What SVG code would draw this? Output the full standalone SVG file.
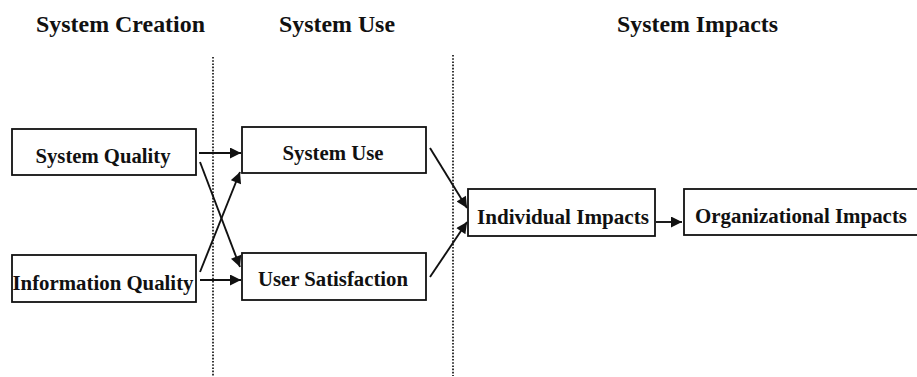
<svg xmlns="http://www.w3.org/2000/svg" width="917" height="377" viewBox="0 0 917 377">
<style>
.hdr{font-family:"Liberation Serif","Times New Roman",serif;font-weight:bold;font-size:23.5px;fill:#111}
.lbl{font-family:"Liberation Serif","Times New Roman",serif;font-weight:bold;font-size:20.5px;fill:#111;text-anchor:middle}
.box{fill:#fff;stroke:#111;stroke-width:1.8}
.div{stroke:#222;stroke-width:1.8;stroke-dasharray:1.6 1.6;fill:none}
.arr{stroke:#111;stroke-width:1.9;fill:none;marker-end:url(#ah)}
</style>
<defs>
<marker id="ah" viewBox="0 0 10 10" refX="10" refY="5" markerWidth="13" markerHeight="11" markerUnits="userSpaceOnUse" orient="auto">
<path d="M0,0 L10,5 L0,10 z" fill="#111"/>
</marker>
</defs>
<rect width="917" height="377" fill="#fff"/>
<g id="headers">
<text class="hdr" x="36" y="32" textLength="169" lengthAdjust="spacingAndGlyphs">System Creation</text>
<text class="hdr" x="279" y="32" textLength="116" lengthAdjust="spacingAndGlyphs">System Use</text>
<text class="hdr" x="617" y="32" textLength="161" lengthAdjust="spacingAndGlyphs">System Impacts</text>
</g>
<g id="dividers">
<line class="div" x1="213" y1="57" x2="213" y2="376"/>
<line class="div" x1="453" y1="55" x2="453" y2="376"/>
</g>
<g id="connectors">
<line class="arr" x1="199" y1="153" x2="241" y2="153"/>
<line class="arr" x1="200" y1="162" x2="240" y2="267"/>
<line class="arr" x1="200" y1="272" x2="240" y2="172"/>
<line class="arr" x1="200" y1="280" x2="241" y2="280"/>
<line class="arr" x1="430" y1="148" x2="467" y2="208"/>
<line class="arr" x1="430" y1="277" x2="467" y2="222"/>
<line class="arr" x1="656" y1="222" x2="682" y2="222"/>
</g>
<g id="system-quality">
<rect class="box" x="12" y="129" width="184" height="46"/>
<text class="lbl" x="103" y="163" textLength="135" lengthAdjust="spacingAndGlyphs">System Quality</text>
</g>
<g id="information-quality">
<rect class="box" x="12" y="255" width="184" height="47"/>
<text class="lbl" x="103" y="290" textLength="181" lengthAdjust="spacingAndGlyphs">Information Quality</text>
</g>
<g id="system-use">
<rect class="box" x="242" y="127" width="184" height="46"/>
<text class="lbl" x="333" y="160" textLength="101" lengthAdjust="spacingAndGlyphs">System Use</text>
</g>
<g id="user-satisfaction">
<rect class="box" x="242" y="253" width="184" height="47"/>
<text class="lbl" x="333" y="286" textLength="150" lengthAdjust="spacingAndGlyphs">User Satisfaction</text>
</g>
<g id="individual-impacts">
<rect class="box" x="468" y="189" width="187" height="47"/>
<text class="lbl" x="563" y="224" textLength="172" lengthAdjust="spacingAndGlyphs">Individual Impacts</text>
</g>
<g id="organizational-impacts">
<rect class="box" x="684" y="189" width="240" height="46"/>
<text class="lbl" x="801" y="223" textLength="212" lengthAdjust="spacingAndGlyphs">Organizational Impacts</text>
</g>
</svg>
